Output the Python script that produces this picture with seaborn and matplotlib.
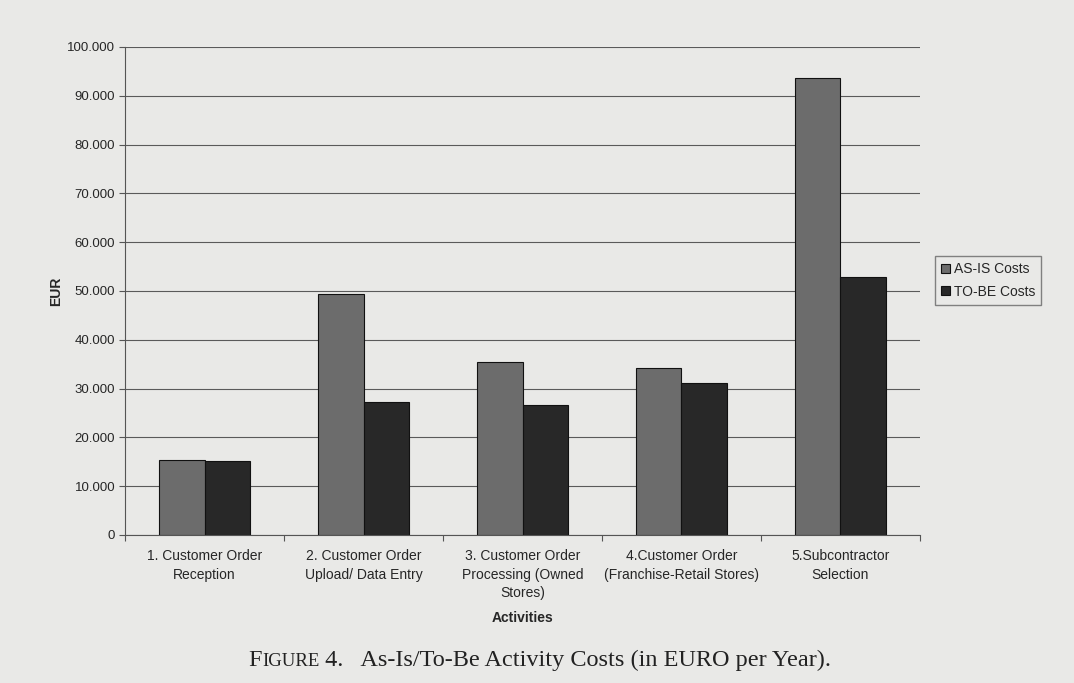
import pandas as pd
import numpy as np
import matplotlib
matplotlib.use('Agg')
import matplotlib.pyplot as plt
import seaborn as sns
from matplotlib.ticker import FuncFormatter, FixedLocator

# Data
activities = [
    "1. Customer Order\nReception",
    "2. Customer Order\nUpload/ Data Entry",
    "3. Customer Order\nProcessing (Owned\nStores)",
    "4.Customer Order\n(Franchise-Retail Stores)",
    "5.Subcontractor\nSelection",
]
as_is_costs = [15300, 49400, 35400, 34200, 93700]
to_be_costs = [15100, 27300, 26600, 31100, 52900]
series_names = ["AS-IS Costs", "TO-BE Costs"]
y_ticks = list(range(0, 100001, 10000))

data = pd.DataFrame({
    "Activity": activities * 2,
    "Series": [series_names[0]] * len(activities) + [series_names[1]] * len(activities),
    "EUR": as_is_costs + to_be_costs,
})

sns.set_style("white")
plt.rcParams['font.family'] = ['Liberation Sans', 'DejaVu Sans']

bg = "#e9e9e7"
fig = plt.figure(figsize=(10.74, 6.83), dpi=100, facecolor=bg)
ax = fig.add_axes([0.1164, 0.2167, 0.7402, 0.7145])
ax.set_facecolor(bg)

sns.barplot(data=data, x="Activity", y="EUR", hue="Series",
            palette=["#6c6c6c", "#282828"], width=0.575, gap=0,
            edgecolor="#111111", linewidth=0.8, saturation=1, ax=ax)

ax.set_ylim(0, 100000)
ax.set_xlim(-0.5, len(activities) - 0.5)
ax.yaxis.set_major_locator(FixedLocator(y_ticks))
ax.yaxis.set_major_formatter(FuncFormatter(lambda v, p: "0" if v == 0 else f"{int(v):,}".replace(",", ".")))
ax.grid(axis="y", color="#5a5a5a", linewidth=0.8)
ax.set_axisbelow(True)

for s in ["top", "right"]:
    ax.spines[s].set_visible(False)
for s in ["left", "bottom"]:
    ax.spines[s].set_color("#555555")
    ax.spines[s].set_linewidth(0.8)

ax.tick_params(axis="y", length=4, width=0.8, color="#555555", labelsize=9.5, pad=3, direction="out", left=True)
ax.tick_params(axis="x", which="major", length=0, labelsize=10, pad=10)
for lbl in ax.get_xticklabels():
    lbl.set_linespacing(1.42)
ax.set_xticks(np.arange(-0.5, len(activities), 1.0), minor=True)
ax.tick_params(axis="x", which="minor", length=4, width=0.8, color="#555555", direction="out", bottom=True)

ax.set_xlabel("Activities", fontsize=10, fontweight="bold", labelpad=8)
ax.set_ylabel("EUR", fontsize=10, fontweight="bold", labelpad=3)

ax.legend(loc="upper left", bbox_to_anchor=(935 / 1074, 1 - 256 / 683), bbox_transform=fig.transFigure,
          frameon=True, fancybox=False, edgecolor="#666666", facecolor=bg, fontsize=10,
          handlelength=0.6, handleheight=0.6, handletextpad=0.3, borderpad=0.45,
          labelspacing=0.6, borderaxespad=0)

# Caption with small-caps style "Figure", centred under the chart
y0 = 0.025
parts = [("F", 17.5), ("IGURE", 13.5), (" 4.   As-Is/To-Be Activity Costs (in EURO per Year).", 17.5)]
texts = []
fig.canvas.draw()
renderer = fig.canvas.get_renderer()
x = 0.0
for s, size in parts:
    t = fig.text(x, y0, s, family="Liberation Serif", fontsize=size, color="#222222")
    bb = t.get_window_extent(renderer)
    x = x + bb.width / fig.bbox.width
    texts.append(t)
shift = 540 / 1074 - x / 2
for t in texts:
    px, py = t.get_position()
    t.set_position((px + shift, py))

fig.savefig("out.png", dpi=100, facecolor=bg)
